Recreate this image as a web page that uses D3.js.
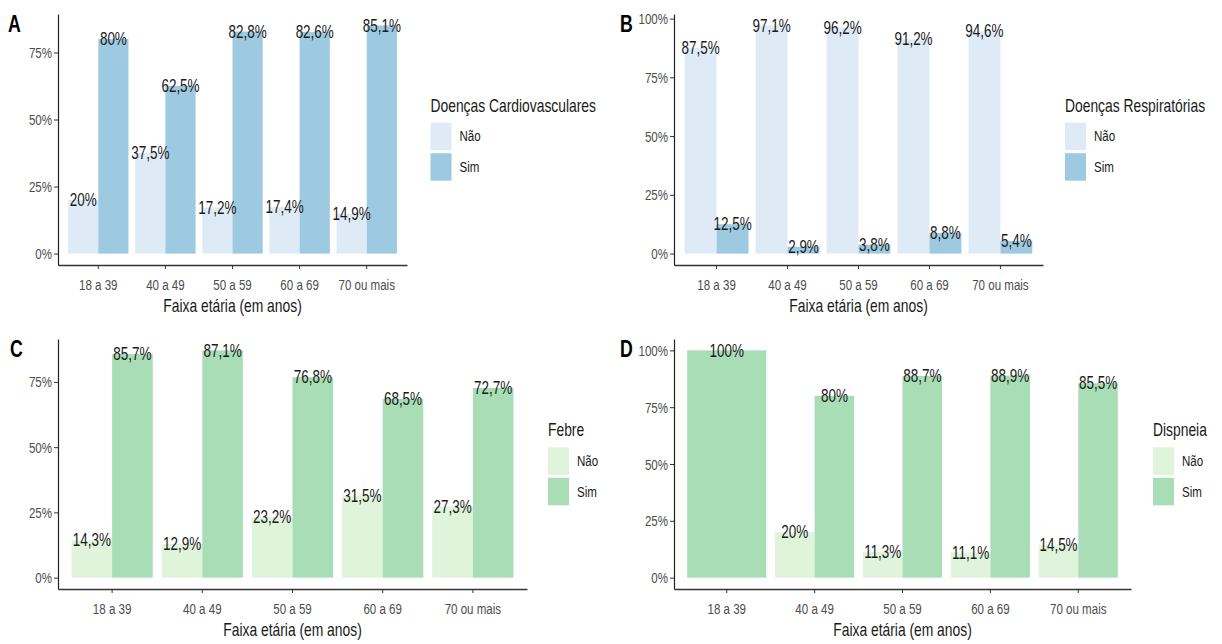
<!DOCTYPE html>
<html>
<head>
<meta charset="utf-8">
<script src="https://cdn.jsdelivr.net/npm/d3@7"></script>
<style>
  body { margin: 0; background: #fff; }
  svg { display: block; font-family: "Liberation Sans", Arial, Helvetica, sans-serif; }
</style>
</head>
<body>
<svg id="chart" width="1222" height="644"></svg>
<script>
// ---- data ----
const faixas = ["18 a 39", "40 a 49", "50 a 59", "60 a 69", "70 ou mais"];
const respostas = ["Não", "Sim"];

const cardioNao = [20, 37.5, 17.2, 17.4, 14.9];
const cardioSim = [80, 62.5, 82.8, 82.6, 85.1];

const respNao = [87.5, 97.1, 96.2, 91.2, 94.6];
const respSim = [12.5, 2.9, 3.8, 8.8, 5.4];

const febreNao = [14.3, 12.9, 23.2, 31.5, 27.3];
const febreSim = [85.7, 87.1, 76.8, 68.5, 72.7];

const dispneiaNao = [null, 20, 11.3, 11.1, 14.5];   // no "Não" answers in 18 a 39
const dispneiaSim = [100, 80, 88.7, 88.9, 85.5];

const ticksAte75 = [0, 25, 50, 75];
const ticksAte100 = [0, 25, 50, 75, 100];
const tituloX = "Faixa etária (em anos)";

const azuis = ["#deebf7", "#9ecae1"];
const verdes = ["#e0f3db", "#a8ddb5"];

// ---- layout ----
const SX = 0.77;              // horizontal text compression
const svg = d3.select("#chart");

const paineis = [
  { letra: "A", titulo: "Doenças Cardiovasculares", nao: cardioNao, sim: cardioSim, ticks: ticksAte75, cores: azuis,
    x0: 58, x1: 407, top: 14, bottom: 265, letraX: 8, letraY: 32, legX: 430.5, legTitleY: 112, legKeyY: 122.7 },
  { letra: "B", titulo: "Doenças Respiratórias", nao: respNao, sim: respSim, ticks: ticksAte100, cores: azuis,
    x0: 674, x1: 1043, top: 14, bottom: 265, letraX: 620, letraY: 32, legX: 1065, legTitleY: 112, legKeyY: 122.7 },
  { letra: "C", titulo: "Febre", nao: febreNao, sim: febreSim, ticks: ticksAte75, cores: verdes,
    x0: 58, x1: 527, top: 339, bottom: 589, letraX: 10, letraY: 356.5, legX: 548, legTitleY: 436, legKeyY: 447.3 },
  { letra: "D", titulo: "Dispneia", nao: dispneiaNao, sim: dispneiaSim, ticks: ticksAte100, cores: verdes,
    x0: 674, x1: 1131, top: 339, bottom: 589, letraX: 620, letraY: 356.5, legX: 1153, legTitleY: 436, legKeyY: 447.3 }
];

const fmt = v => String(v).replace(".", ",") + "%";

function texto(g, x, y, str) {
  return g.append("text")
    .attr("transform", `translate(${x},${y}) scale(${SX},1)`)
    .text(str);
}

paineis.forEach(p => {
  const g = svg.append("g");
  const series = [p.nao, p.sim];
  const maxV = d3.max(series.flat().filter(v => v != null));
  const pad = maxV * 0.05;

  const x = d3.scaleBand().domain(faixas).range([p.x0, p.x1])
    .paddingInner(0.1).paddingOuter(0.15);
  const xr = d3.scaleBand().domain(respostas).range([0, x.bandwidth()]);
  const y = d3.scaleLinear().domain([-pad, maxV + pad]).range([p.bottom, p.top]);
  const cor = d3.scaleOrdinal().domain(respostas).range(p.cores);

  // bars (dodged; a single bar takes the whole group width)
  const barras = [];
  faixas.forEach((f, i) => {
    const presentes = respostas.filter((r, k) => series[k][i] != null);
    presentes.forEach(r => {
      const v = series[respostas.indexOf(r)][i];
      const bx = presentes.length === 1 ? x(f) : x(f) + xr(r);
      const bw = presentes.length === 1 ? x.bandwidth() : xr.bandwidth();
      barras.push({ f, r, v, bx, bw });
    });
  });

  g.selectAll("rect.barra").data(barras).join("rect")
    .attr("class", "barra")
    .attr("x", d => d.bx)
    .attr("width", d => d.bw)
    .attr("y", d => y(d.v))
    .attr("height", d => y(0) - y(d.v))
    .attr("fill", d => cor(d.r));

  // y axis
  const ay = g.append("g").attr("transform", `translate(${p.x0},0)`)
    .call(d3.axisLeft(y).tickValues(p.ticks).tickFormat(d => d + "%").tickSize(4).tickSizeOuter(0));
  ay.select(".domain").attr("stroke", "#222").attr("stroke-width", 1.2);
  ay.selectAll(".tick line").attr("stroke", "#333").attr("stroke-width", 1);
  ay.selectAll(".tick text")
    .attr("x", null).attr("dy", null)
    .attr("dominant-baseline", "central")
    .attr("transform", `translate(-6,0) scale(${SX},1)`)
    .attr("fill", "#4d4d4d").attr("font-size", 15)
    .attr("font-family", "Liberation Sans, Arial, sans-serif");

  // x axis
  const ax = g.append("g").attr("transform", `translate(0,${p.bottom})`)
    .call(d3.axisBottom(x).tickSize(4).tickSizeOuter(0));
  ax.select(".domain").attr("stroke", "#333").attr("stroke-width", 1.4);
  ax.selectAll(".tick line").attr("stroke", "#333").attr("stroke-width", 1);
  ax.selectAll(".tick text")
    .attr("y", null).attr("dy", null)
    .attr("transform", `translate(0,25) scale(${SX},1)`)
    .attr("fill", "#4d4d4d").attr("font-size", 15)
    .attr("font-family", "Liberation Sans, Arial, sans-serif");

  // value labels at the bar tops
  g.selectAll("text.valor").data(barras).join("text")
    .attr("class", "valor")
    .attr("transform", d => `translate(${d.bx + d.bw / 2},${y(d.v)}) scale(${SX},1)`)
    .attr("text-anchor", "middle")
    .attr("dominant-baseline", "central")
    .attr("font-size", 17.5)
    .attr("fill", "#1a1a1a")
    .text(d => fmt(d.v));

  // x axis title
  texto(g, (p.x0 + p.x1) / 2, p.bottom + 47, tituloX)
    .attr("text-anchor", "middle").attr("font-size", 18).attr("fill", "#1a1a1a");

  // panel letter
  texto(g, p.letraX, p.letraY, p.letra)
    .attr("font-size", 23).attr("font-weight", "bold").attr("fill", "#000");

  // legend
  const leg = g.append("g");
  texto(leg, p.legX, p.legTitleY, p.titulo).attr("font-size", 18).attr("fill", "#1a1a1a");
  const kh = 27.5, kw = 21, gap = 3;
  respostas.forEach((r, k) => {
    const ky = p.legKeyY + k * (kh + gap);
    leg.append("rect").attr("x", p.legX).attr("y", ky).attr("width", kw).attr("height", kh).attr("fill", cor(r));
    texto(leg, p.legX + kw + 8, ky + kh / 2, r)
      .attr("dominant-baseline", "central").attr("font-size", 15).attr("fill", "#1a1a1a");
  });
});
</script>
</body>
</html>
